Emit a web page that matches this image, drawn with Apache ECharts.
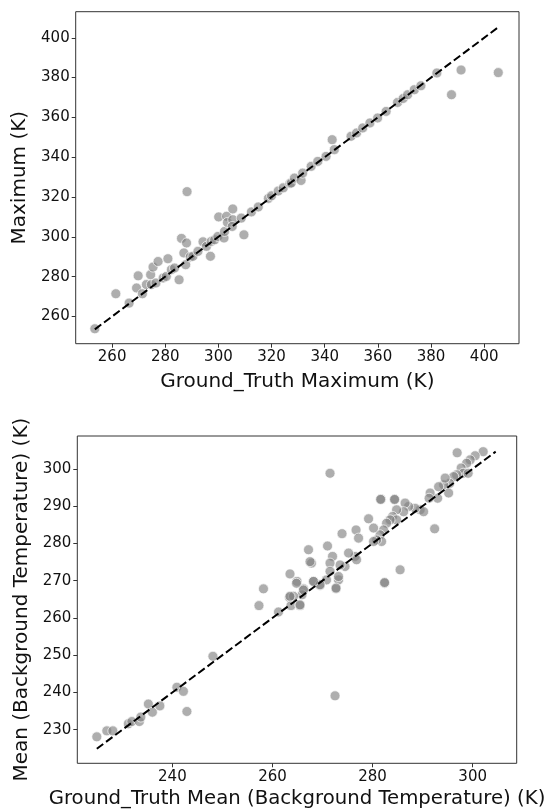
<!DOCTYPE html>
<html>
<head>
<meta charset="utf-8">
<script src="https://cdn.jsdelivr.net/npm/echarts@6/dist/echarts.min.js"></script>
<style>
html,body{margin:0;padding:0;background:#fff;}
#chart{width:545px;height:810px;}
</style>
</head>
<body>
<div id="chart"></div>
<script>
// ---- Top panel: Maximum ----
var topX = [253.5,261.4,266.4,269.8,269.2,271.4,272.9,274.8,276.5,274.5,275.4,277.3,281.0,279.2,280.4,282.3,283.5,285.2,286.1,288.0,287.0,287.7,288.2,289.4,290.4,292.3,294.2,295.5,297.0,297.3,298.6,299.8,300.1,302.1,302.3,303.1,303.4,305.4,305.4,305.2,309.6,308.6,312.4,315.0,318.8,320.0,322.5,324.4,326.9,327.4,328.6,331.1,331.7,334.9,337.4,340.5,342.8,343.6,349.9,352.0,354.3,357.0,359.9,363.1,367.4,369.5,371.2,373.7,376.2,382.2,387.7,391.3,405.3];
var topY = [253.8,271.4,266.7,280.4,274.3,271.4,276.0,276.0,276.8,281.0,284.8,287.6,289.0,279.3,280.1,283.5,284.3,278.4,299.2,296.9,291.9,286.0,322.7,289.9,290.2,292.7,297.5,295.2,290.2,297.7,298.5,300.2,310.0,299.4,302.7,310.3,307.2,314.0,308.6,305.2,301.0,309.4,312.5,315.0,319.3,320.6,323.0,324.6,326.8,327.0,329.5,328.3,332.0,335.4,337.9,340.4,348.8,343.8,350.5,352.2,354.7,357.2,359.7,363.0,367.5,369.5,371.4,373.9,375.9,382.3,371.4,383.8,382.5];
var topLine = [253.5, 405.0];
var topTicks = [260,280,300,320,340,360,380,400];
var topRange = [246.3, 413.1];

// ---- Bottom panel: Mean (Background Temperature) ----
var botX = [224.9,226.9,228.1,231.2,231.9,233.4,233.7,235.2,236.0,237.5,240.9,242.2,242.9,248.1,257.3,258.2,261.2,263.4,263.7,264.9,265.5,266.2,265.9,268.2,269.5,270.8,272.7,273.2,282.4,272.5,
296.9,302.1,300.5,299.5,298.8,297.7,298.1,299.1,296.8,296.2,295.4,294.2,293.2,294.5,293.0,295.2,291.5,291.3,289.5,290.2,288.5,287.2,286.5,286.2,284.8,284.4,281.7,284.0,284.8,283.5,282.8,282.2,281.5,281.8,280.8,280.2,280.2,279.2,276.7,277.2,276.5,276.8,275.2,273.9,274.5,273.5,272.0,271.5,271.0,271.5,273.2,272.7,269.5,268.2,267.8,267.2,267.5,264.8,264.2,263.5,266.2,265.5,263.5,271.5,292.4,285.5,282.4,281.6,284.4];
var botY = [228.1,229.7,229.7,231.6,232.2,232.2,233.4,236.9,234.7,236.4,241.4,240.3,234.9,249.7,263.3,267.8,261.6,265.5,263.3,269.8,263.3,267.8,266.2,269.8,268.7,270.2,267.8,270.2,269.3,239.1,
304.3,304.6,303.5,302.4,301.5,300.2,298.8,298.8,298.4,297.9,296.1,295.7,295.2,297.5,292.1,293.5,293.5,292.1,289.0,288.5,289.4,289.9,290.8,288.5,289.0,291.7,291.8,287.2,286.3,286.3,285.4,283.6,282.3,280.5,280.9,280.5,284.1,286.6,283.6,281.4,276.5,275.6,277.4,282.6,273.8,274.2,276.5,274.7,279.3,272.5,271.1,268.0,268.9,269.8,274.7,278.3,275.1,269.3,265.8,271.8,267.5,263.5,265.8,298.8,283.9,272.9,269.5,291.8,291.8];
var botLine = [224.9, 304.6];
var botXTicks = [240,260,280,300];
var botYTicks = [230,240,250,260,270,280,290,300];
var botRange = [221.0, 308.8];

function pairs(xs, ys){ var o=[]; for(var i=0;i<xs.length;i++) o.push([xs[i], ys[i]]); return o; }

var FONT = 'DejaVu Sans';
var axisCommon = function(ticks, extra){
  var a = {
    type:'value', scale:true,
    axisLine:{show:false},
    splitLine:{show:false},
    axisTick:{show:true, length:4, customValues: ticks, lineStyle:{color:'#333', width:1}},
    axisLabel:{show:true, customValues: ticks, color:'#111', fontFamily:FONT, fontSize:15, margin:6},
    nameTextStyle:{color:'#111', fontFamily:FONT, fontSize:20},
    nameLocation:'middle'
  };
  for (var k in extra) a[k]=extra[k];
  return a;
};

var chart = echarts.init(document.getElementById('chart'), null, {renderer:'canvas'});
var pointStyle = {color:'rgba(128,128,128,0.8)', borderColor:'rgba(255,255,255,0.85)', borderWidth:1};
chart.setOption({
  animation:false,
  backgroundColor:'#fff',
  grid:[
    {left:75.7, top:11.7, width:443.3, height:332, show:true, borderColor:'#333', borderWidth:1, backgroundColor:'transparent', containLabel:false, outerBoundsMode:'none'},
    {left:77.3, top:436, width:439.4, height:327.3, show:true, borderColor:'#333', borderWidth:1, backgroundColor:'transparent', containLabel:false, outerBoundsMode:'none'}
  ],
  xAxis:[
    axisCommon(topTicks, {gridIndex:0, min:topRange[0], max:topRange[1], name:'Ground_Truth Maximum (K)', nameGap:28}),
    axisCommon(botXTicks, {gridIndex:1, min:botRange[0], max:botRange[1], name:'Ground_Truth Mean (Background Temperature) (K)', nameGap:26,
      nameTextStyle:{color:'#111', fontFamily:FONT, fontSize:19.7}})
  ],
  yAxis:[
    axisCommon(topTicks, {gridIndex:0, min:topRange[0], max:topRange[1], name:'Maximum (K)', nameGap:44}),
    axisCommon(botYTicks, {gridIndex:1, min:botRange[0], max:botRange[1], name:'Mean (Background Temperature) (K)', nameGap:45})
  ],
  series:[
    {type:'scatter', xAxisIndex:0, yAxisIndex:0, symbolSize:10, itemStyle:pointStyle, data:pairs(topX, topY), z:2},
    {type:'line', xAxisIndex:0, yAxisIndex:0, symbol:'none', data:[[topLine[0],topLine[0]],[topLine[1],topLine[1]]], lineStyle:{color:'#000', width:2, type:[8,3.5]}, z:3},
    {type:'scatter', xAxisIndex:1, yAxisIndex:1, symbolSize:10, itemStyle:pointStyle, data:pairs(botX, botY), z:2},
    {type:'line', xAxisIndex:1, yAxisIndex:1, symbol:'none', data:[[botLine[0],botLine[0]],[botLine[1],botLine[1]]], lineStyle:{color:'#000', width:2, type:[8,3.5]}, z:3}
  ]
});
</script>
</body>
</html>
